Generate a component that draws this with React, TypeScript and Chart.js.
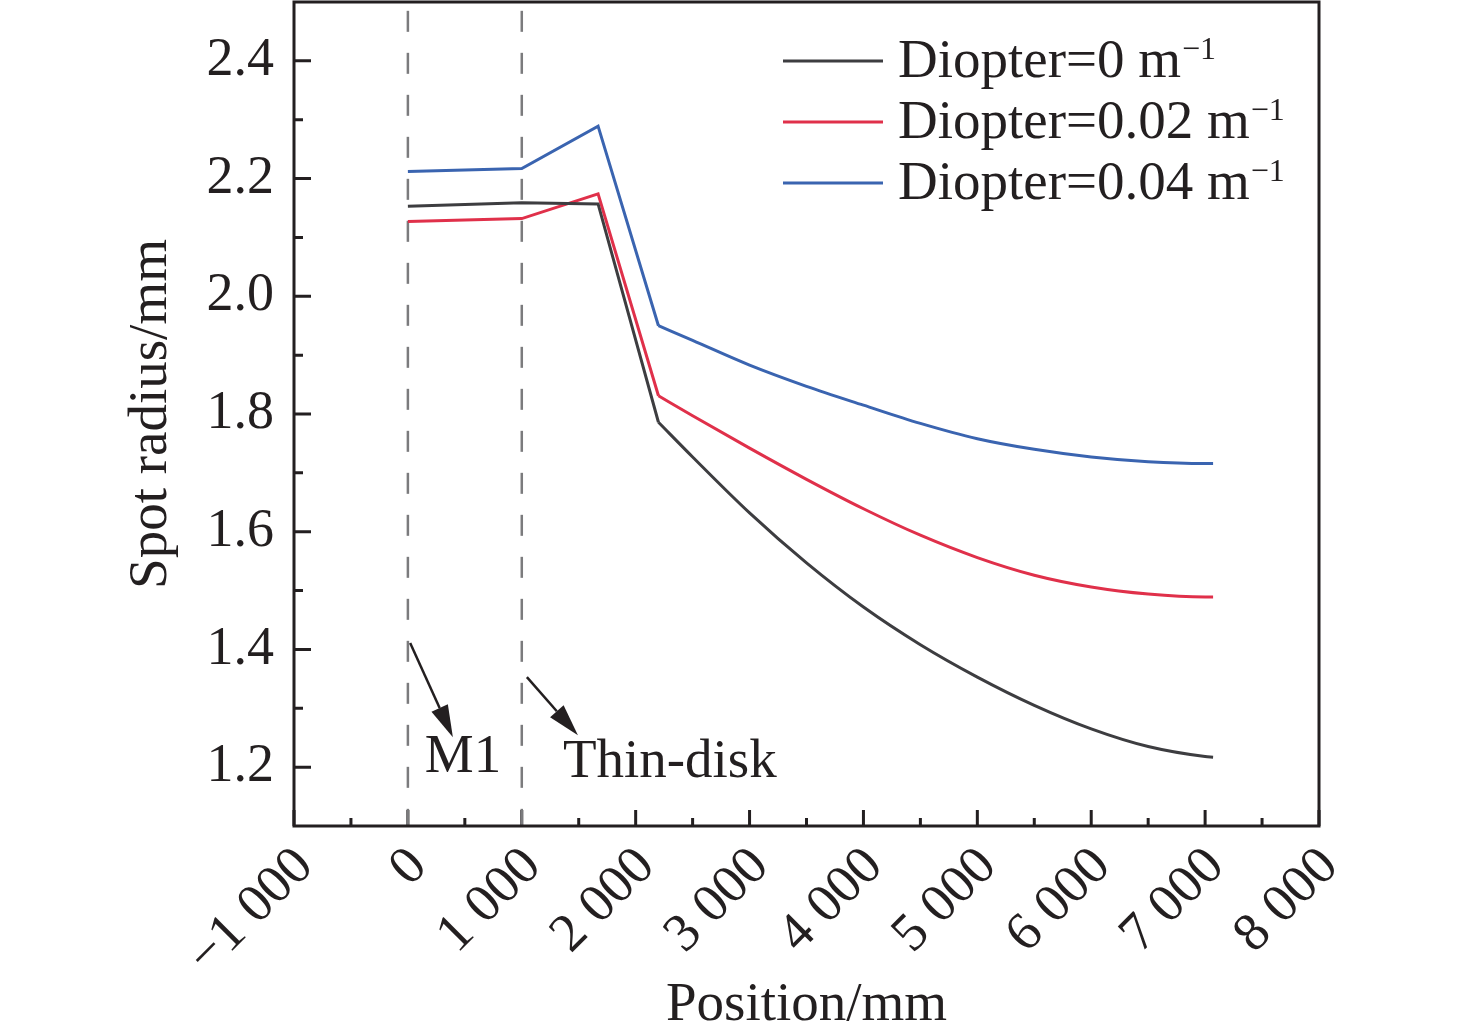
import { useEffect, useRef } from "react"
import { Chart, registerables } from "chart.js"

Chart.register(...registerables)

const FONT = '"Liberation Serif", "Times New Roman", Times, serif'
const INK = "#231f20"

// beam positions (mm) and spot radius (mm) for each diopter
const positions = [0, 1000, 1670, 2200, 2500, 3000, 3500, 4000, 4500, 5000, 5500, 6000, 6500, 7000, 7070]
const diopter0 = [2.153, 2.159, 2.157, 1.786, 1.727, 1.632, 1.547, 1.472, 1.408, 1.353, 1.305, 1.265, 1.235, 1.218, 1.217]
const diopter002 = [2.127, 2.132, 2.174, 1.831, 1.797, 1.742, 1.689, 1.639, 1.594, 1.556, 1.526, 1.506, 1.494, 1.489, 1.489]
const diopter004 = [2.212, 2.217, 2.289, 1.95, 1.925, 1.883, 1.847, 1.815, 1.784, 1.758, 1.74, 1.727, 1.719, 1.716, 1.716]
// index where the free-space propagation (smooth curve) starts
const curveStart = 3

const seriesValues = [diopter0, diopter002, diopter004]
const seriesLabels = ["Diopter=0 m⁻¹", "Diopter=0.02 m⁻¹", "Diopter=0.04 m⁻¹"]
const seriesColors = ["#3d3d40", "#e0304a", "#3a64b0"]

// element positions marked with dashed lines
const markerPositions = [0, 1000]

const xTicks = [-1000, 0, 1000, 2000, 3000, 4000, 5000, 6000, 7000, 8000]
const xTickLabels = ["−1 000", "0", "1 000", "2 000", "3 000", "4 000", "5 000", "6 000", "7 000", "8 000"]
const xMinorTicks = [-500, 500, 1500, 2500, 3500, 4500, 5500, 6500, 7500]
const yTicks = [1.2, 1.4, 1.6, 1.8, 2.0, 2.2, 2.4]
const yTickLabels = ["1.2", "1.4", "1.6", "1.8", "2.0", "2.2", "2.4"]
const yMinorTicks = [1.3, 1.5, 1.7, 1.9, 2.1, 2.3]

// annotation arrows and labels, in data units
const arrows = [
  { from: [20, 1.411], to: [395, 1.251] },
  { from: [1045, 1.353], to: [1493, 1.254] },
]
const notes = [
  { text: "M1", at: [149, 1.192] },
  { text: "Thin-disk", at: [1361, 1.183] },
]

const framePlugin = {
  id: "frame",
  beforeDatasetsDraw(chart: any) {
    const { ctx, chartArea: a, scales } = chart
    const x = scales.x
    const y = scales.y
    ctx.save()
    ctx.strokeStyle = INK
    ctx.lineWidth = 3
    ctx.beginPath()
    xTicks.forEach((v) => {
      const px = x.getPixelForValue(v)
      ctx.moveTo(px, a.bottom)
      ctx.lineTo(px, a.bottom - 16)
    })
    xMinorTicks.forEach((v) => {
      const px = x.getPixelForValue(v)
      ctx.moveTo(px, a.bottom)
      ctx.lineTo(px, a.bottom - 8)
    })
    yTicks.forEach((v) => {
      const py = y.getPixelForValue(v)
      ctx.moveTo(a.left, py)
      ctx.lineTo(a.left + 17, py)
    })
    yMinorTicks.forEach((v) => {
      const py = y.getPixelForValue(v)
      ctx.moveTo(a.left, py)
      ctx.lineTo(a.left + 9, py)
    })
    ctx.stroke()
    ctx.restore()
  },
  afterDraw(chart: any) {
    const { ctx, chartArea: a, scales } = chart
    const x = scales.x
    const y = scales.y
    ctx.save()

    // box
    ctx.strokeStyle = INK
    ctx.lineWidth = 3
    ctx.strokeRect(a.left, a.top, a.right - a.left, a.bottom - a.top)

    // legend
    seriesLabels.forEach((label, i) => {
      const rowY = 61 + i * 61
      ctx.strokeStyle = seriesColors[i]
      ctx.lineWidth = 3
      ctx.beginPath()
      ctx.moveTo(783, rowY)
      ctx.lineTo(883, rowY)
      ctx.stroke()
      const base = label.replace("⁻¹", "")
      ctx.fillStyle = INK
      ctx.textAlign = "left"
      ctx.textBaseline = "alphabetic"
      ctx.font = `55px ${FONT}`
      ctx.fillText(base, 898, rowY + 16)
      const w = ctx.measureText(base).width
      ctx.font = `32px ${FONT}`
      ctx.fillText("−1", 898 + w + 1, rowY - 2)
    })

    // arrows
    ctx.strokeStyle = INK
    ctx.fillStyle = INK
    ctx.lineWidth = 2.5
    arrows.forEach(({ from, to }) => {
      const x0 = x.getPixelForValue(from[0])
      const y0 = y.getPixelForValue(from[1])
      const x1 = x.getPixelForValue(to[0])
      const y1 = y.getPixelForValue(to[1])
      const ang = Math.atan2(y1 - y0, x1 - x0)
      const head = 32
      const half = 9
      const bx = x1 - head * Math.cos(ang)
      const by = y1 - head * Math.sin(ang)
      ctx.beginPath()
      ctx.moveTo(x0, y0)
      ctx.lineTo(bx, by)
      ctx.stroke()
      ctx.beginPath()
      ctx.moveTo(x1, y1)
      ctx.lineTo(bx + half * Math.sin(ang), by - half * Math.cos(ang))
      ctx.lineTo(bx - half * Math.sin(ang), by + half * Math.cos(ang))
      ctx.closePath()
      ctx.fill()
    })

    // labels
    ctx.font = `55px ${FONT}`
    ctx.textAlign = "left"
    ctx.textBaseline = "alphabetic"
    notes.forEach(({ text, at }) => {
      ctx.fillText(text, x.getPixelForValue(at[0]), y.getPixelForValue(at[1]))
    })

    ctx.restore()
  },
}

const noPadding = (s: any) => {
  s.paddingTop = 0
  s.paddingBottom = 0
  s.paddingLeft = 0
  s.paddingRight = 0
}

export default function App() {
  const chartRef = useRef<HTMLCanvasElement>(null)
  const chartInstance = useRef<Chart | null>(null)

  useEffect(() => {
    document.body.style.margin = "0"
    if (!chartRef.current) return

    if (chartInstance.current) {
      chartInstance.current.destroy()
    }

    const ctx = chartRef.current.getContext("2d")
    if (!ctx) return

    // straight segments through the optics, smooth curve afterwards
    const straightSets = seriesValues.map((vals, i) => ({
      label: seriesLabels[i],
      data: positions.slice(0, curveStart + 1).map((p, j) => ({ x: p, y: vals[j] })),
      borderColor: seriesColors[i],
      borderWidth: 3,
      pointRadius: 0,
      tension: 0,
    }))
    const curveSets = seriesValues.map((vals, i) => ({
      label: seriesLabels[i],
      data: positions.slice(curveStart).map((p, j) => ({ x: p, y: vals[j + curveStart] })),
      borderColor: seriesColors[i],
      borderWidth: 3,
      pointRadius: 0,
      cubicInterpolationMode: "monotone" as const,
    }))

    const markerSets = markerPositions.map((p) => ({
      label: "",
      data: [
        { x: p, y: 2.485 },
        { x: p, y: 1.1 },
      ],
      borderColor: "#7b7b7d",
      borderWidth: 2.5,
      borderDash: [21, 21],
      pointRadius: 0,
    }))

    chartInstance.current = new Chart(ctx, {
      type: "line",
      data: { datasets: [...straightSets, ...curveSets, ...markerSets] },
      options: {
        animation: false,
        responsive: true,
        maintainAspectRatio: false,
        layout: { padding: { top: 2, right: 157, bottom: 0, left: 0 } },
        scales: {
          x: {
            type: "linear",
            min: -1000,
            max: 8000,
            afterBuildTicks: (s: any) => {
              s.ticks = xTicks.map((v) => ({ value: v }))
            },
            afterFit: (s: any) => {
              s.height = 205
              noPadding(s)
            },
            grid: { display: false, drawTicks: false },
            border: { display: false },
            ticks: {
              autoSkip: false,
              minRotation: 45,
              maxRotation: 45,
              padding: 8,
              labelOffset: 11,
              color: INK,
              font: { family: FONT, size: 54, lineHeight: 1.26 },
              callback: (v: any) => xTickLabels[xTicks.indexOf(Number(v))],
            },
            title: {
              display: true,
              text: "Position/mm",
              color: INK,
              font: { family: FONT, size: 55, lineHeight: 1 },
              padding: { top: 0, bottom: -2 },
            },
          },
          y: {
            min: 1.1,
            max: 2.5,
            afterBuildTicks: (s: any) => {
              s.ticks = yTicks.map((v) => ({ value: v }))
            },
            afterFit: (s: any) => {
              s.width = 294
              noPadding(s)
            },
            grid: { display: false, drawTicks: false },
            border: { display: false },
            ticks: {
              autoSkip: false,
              padding: 20,
              color: INK,
              font: { family: FONT, size: 54 },
              callback: (v: any) => yTickLabels[yTicks.findIndex((t) => Math.abs(t - Number(v)) < 1e-6)],
            },
            title: {
              display: true,
              text: "Spot radius/mm",
              color: INK,
              font: { family: FONT, size: 55, lineHeight: 1 },
              padding: { top: 124, bottom: 0 },
            },
          },
        },
        plugins: {
          legend: { display: false },
          tooltip: { enabled: false },
        },
      },
      plugins: [framePlugin],
    })

    return () => {
      if (chartInstance.current) {
        chartInstance.current.destroy()
        chartInstance.current = null
      }
    }
  }, [])

  return (
    <div style={{ width: 1476, height: 1031, position: "relative", background: "#fff" }}>
      <canvas ref={chartRef}></canvas>
    </div>
  )
}
